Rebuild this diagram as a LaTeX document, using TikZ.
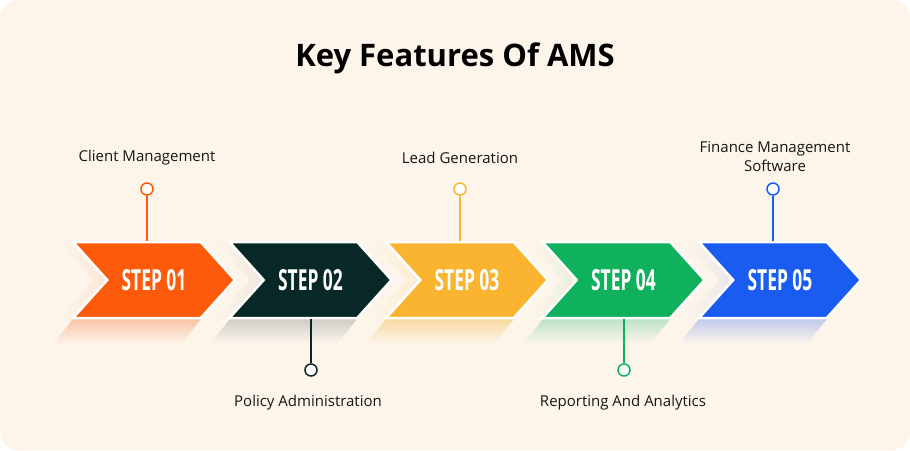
\documentclass[tikz,border=0pt]{standalone}
\usepackage{fontspec}
\setmainfont{Open Sans}
\newfontfamily\stepfont{Open Sans}
\usetikzlibrary{shapes.symbols}

\definecolor{cream}{HTML}{FDF5EA}
\definecolor{ink}{HTML}{161616}
\definecolor{cOrange}{HTML}{FD5B0B}
\definecolor{cDark}{HTML}{082727}
\definecolor{cYellow}{HTML}{FBB430}
\definecolor{cGreen}{HTML}{10B15C}
\definecolor{cBlue}{HTML}{1A5CF2}
\definecolor{tOrange}{HTML}{F8C4A6}
\definecolor{tDark}{HTML}{CFCDC8}
\definecolor{tYellow}{HTML}{F7D9A0}
\definecolor{tGreen}{HTML}{BCE2C6}
\definecolor{tBlue}{HTML}{C0CAEC}

\tikzstyle{arrowbox} = [signal, signal from=west, signal to=east,
  signal pointer angle=96, minimum width=162pt, minimum height=76pt,
  inner sep=0pt]
\tikzstyle{stepbox} = [arrowbox, draw=white, line width=2.5pt, text=white,
  font=\stepfont\bfseries\fontsize{29}{29}\selectfont]
\tikzstyle{ghost} = [arrowbox, middle color=#1, right color=#1, left color=cream]
\tikzstyle{dot} = [circle, draw, fill=white, line width=1.5pt,
  minimum size=12pt, inner sep=0pt]
\tikzstyle{stalk} = [draw, line width=1.5pt]
\tikzstyle{feature} = [text=ink, align=center, font=\fontsize{15}{19}\selectfont]

\newcommand{\steptext}[1]{\scalebox{0.6}[1]{#1}}

\begin{document}
\begin{tikzpicture}[x=1pt, y=-1pt, node distance=156.5pt]

  % canvas
  \fill [white] (0,0) rectangle (910,450);
  \fill [cream, rounded corners=18pt] (0,0) rectangle (910,450);

  \node [font=\bfseries\fontsize{31}{31}\selectfont, text=black] (title) at (455,58) {Key Features Of AMS};

  % faded echoes behind the arrows
  \node [ghost=tOrange] (echo1) at (140,280) {};
  \node [ghost=tDark, right of=echo1] (echo2) {};
  \node [ghost=tYellow, right of=echo2] (echo3) {};
  \node [ghost=tGreen, right of=echo3] (echo4) {};
  \node [ghost=tBlue, right of=echo4] (echo5) {};

  \shade [top color=tOrange, bottom color=cream] (73,319) -- (201,319) -- (181,344) -- (53,344) -- cycle;
  \shade [top color=tDark, bottom color=cream] (230,319) -- (357,319) -- (337,344) -- (210,344) -- cycle;
  \shade [top color=tYellow, bottom color=cream] (386,319) -- (514,319) -- (494,344) -- (366,344) -- cycle;
  \shade [top color=tGreen, bottom color=cream] (543,319) -- (670,319) -- (650,344) -- (523,344) -- cycle;
  \shade [top color=tBlue, bottom color=cream] (699,319) -- (827,319) -- (807,344) -- (679,344) -- cycle;

  % the five steps
  \node [stepbox, fill=cOrange] (step1) at (154,280) {\steptext{STEP 01}};
  \node [stepbox, fill=cDark, right of=step1] (step2) {\steptext{STEP 02}};
  \node [stepbox, fill=cYellow, right of=step2] (step3) {\steptext{STEP 03}};
  \node [stepbox, fill=cGreen, right of=step3] (step4) {\steptext{STEP 04}};
  \node [stepbox, fill=cBlue, right of=step4] (step5) {\steptext{STEP 05}};

  % markers
  \node [dot, draw=cOrange] (dot1) at (147,189) {};
  \node [dot, draw=cDark] (dot2) at (311,370) {};
  \node [dot, draw=cYellow] (dot3) at (460,189) {};
  \node [dot, draw=cGreen] (dot4) at (624,370) {};
  \node [dot, draw=cBlue] (dot5) at (773,189) {};

  \path [stalk, cOrange] (dot1) -- (dot1 |- step1.north);
  \path [stalk, cDark] (dot2) -- (dot2 |- step2.south);
  \path [stalk, cYellow] (dot3) -- (dot3 |- step3.north);
  \path [stalk, cGreen] (dot4) -- (dot4 |- step4.south);
  \path [stalk, cBlue] (dot5) -- (dot5 |- step5.north);

  \node [feature] (feat1) at (147,158) {Client Management};
  \node [feature] (feat2) at (308,403) {Policy Administration};
  \node [feature] (feat3) at (460,158) {Lead Generation};
  \node [feature] (feat4) at (623,403) {Reporting And Analytics};
  \node [feature] (feat5) at (775,157) {Finance Management\\Software};

\end{tikzpicture}
\end{document}
